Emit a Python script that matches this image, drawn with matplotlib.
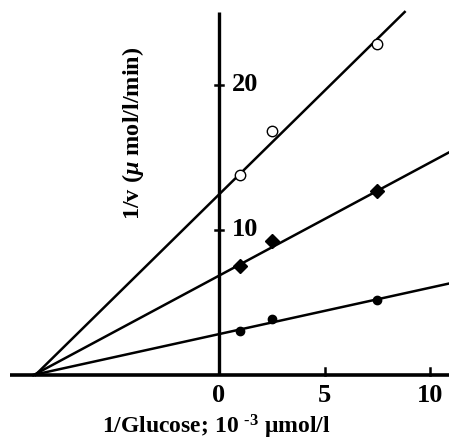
import numpy as np
import matplotlib.pyplot as plt

plt.rcParams['font.family'] = 'Liberation Serif'
plt.rcParams['mathtext.fontset'] = 'custom'
plt.rcParams['mathtext.rm'] = 'Liberation Serif:bold'
plt.rcParams['mathtext.bf'] = 'Liberation Serif:bold'
plt.rcParams['mathtext.it'] = 'Liberation Serif:bold:italic'
plt.rcParams['mathtext.default'] = 'bf'

# 1/[glucose] values (x) and 1/v values for three inhibitor levels
inv_glucose = [1.0, 2.5, 7.5]
inv_v_high = [13.8, 16.8, 22.8]   # open circles
inv_v_mid = [7.5, 9.26, 12.7]     # diamonds
inv_v_low = [3.05, 3.86, 5.17]    # filled circles

# fitted lines: slope, intercept and right end
fit_slopes = [1.43, 0.78, 0.32]
fit_intercepts = [12.45, 6.85, 2.82]
fit_xmax = [8.8, 10.9, 10.9]

x_ticks = [0, 5, 10]
y_ticks = [10, 20]

fig = plt.figure(figsize=(4.49, 4.42), dpi=100)
ax = fig.add_axes([0, 0, 1, 1])
ax.set_xlim(-10.38, 10.9)
ax.set_ylim(-4.62, 25.86)
ax.axis('off')

# axes drawn by hand
ax.plot([-9.9, 10.9], [0, 0], color='black', lw=2.6, solid_capstyle='butt')
ax.plot([0, 0], [0, 25], color='black', lw=2.4, solid_capstyle='butt')

for s, b, xm in zip(fit_slopes, fit_intercepts, fit_xmax):
    xs = np.array([-b / s, xm])
    ax.plot(xs, s * xs + b, color='black', lw=1.8)

ax.plot(inv_glucose, inv_v_high, 'o', ms=7.5, mfc='white', mec='black', mew=1.0)
ax.plot(inv_glucose, inv_v_mid, 'D', ms=7, color='black')
ax.plot(inv_glucose, inv_v_low, 'o', ms=6, color='black')

for t in x_ticks:
    if t != 0:
        ax.plot([t, t], [0, 0.45], color='black', lw=1.8)
    ax.text(t, -1.4, str(t), ha='center', va='center', fontsize=19,
            fontweight='bold')
for t in y_ticks:
    ax.plot([-0.2, 0.2], [t, t], color='black', lw=1.8)
    ax.text(0.6, t, str(t), ha='left', va='center', fontsize=19,
            fontweight='bold')

ax.text(-0.15, -3.6, r'1/Glucose; 10 $^{\text{-}3}$ μmol/l', ha='center',
        va='center', fontsize=17, fontweight='bold')
ax.text(-4.1, 16.7, r'1/v ($\mathit{\mu}$ mol/l/min)', ha='center', va='center',
        rotation=90, fontsize=17.5, fontweight='bold')

fig.savefig('out.png', dpi=100)
